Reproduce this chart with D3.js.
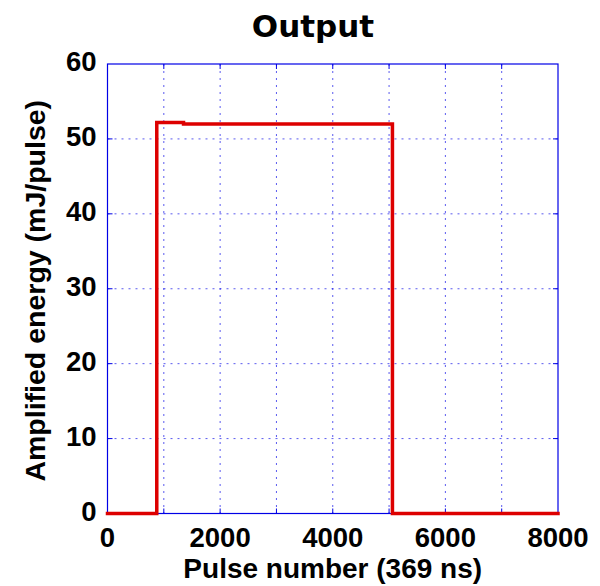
<!DOCTYPE html>
<html>
<head>
<meta charset="utf-8">
<script src="https://cdn.jsdelivr.net/npm/d3@7"></script>
<style>
  body { margin: 0; background: #fff; }
  svg { display: block; }
</style>
</head>
<body>
<svg id="chart"></svg>
<script>
// step trace of the output energy
var pulseNum = [0, 875, 875, 1350, 1350, 5060, 5060, 8000];
var energy   = [0, 0, 52.2, 52.2, 52, 52, 0, 0];
var xTicks = [0, 2000, 4000, 6000, 8000];
var yTicks = [0, 10, 20, 30, 40, 50, 60];
var xGrid = [1000, 2000, 3000, 4000, 5000, 6000, 7000];
var yGrid = [10, 20, 30, 40, 50];

var W = 600, H = 586;
var margin = {top: 64, right: 42, bottom: 72.5, left: 107.5},
    width = W - margin.left - margin.right,
    height = H - margin.top - margin.bottom;

var svg = d3.select("svg#chart")
    .attr("width", W)
    .attr("height", H);

var g = svg.append("g")
    .attr("transform", "translate(" + margin.left + "," + margin.top + ")");

var x = d3.scaleLinear().domain([0, 8000]).range([0, width]);
var y = d3.scaleLinear().domain([0, 60]).range([height, 0]);

var blue = "#0000e6";

// grid
g.selectAll("line.gx")
    .data(xGrid).enter().append("line")
    .attr("x1", function(d){ return x(d); })
    .attr("x2", function(d){ return x(d); })
    .attr("y1", 0).attr("y2", height)
    .attr("stroke", blue).attr("stroke-opacity", 0.65)
    .attr("stroke-dasharray", "2,5");

g.selectAll("line.gy")
    .data(yGrid).enter().append("line")
    .attr("y1", function(d){ return y(d); })
    .attr("y2", function(d){ return y(d); })
    .attr("x1", 0).attr("x2", width)
    .attr("stroke", blue).attr("stroke-opacity", 0.65)
    .attr("stroke-dasharray", "2,5");

// frame
g.append("rect")
    .attr("x", 0).attr("y", 0)
    .attr("width", width).attr("height", height)
    .attr("fill", "none")
    .attr("stroke", blue)
    .attr("stroke-width", 1.2);

// inner tick marks
var tl = 5;
xGrid.forEach(function(d){
    g.append("line").attr("x1", x(d)).attr("x2", x(d)).attr("y1", height).attr("y2", height - tl).attr("stroke", blue);
    g.append("line").attr("x1", x(d)).attr("x2", x(d)).attr("y1", 0).attr("y2", tl).attr("stroke", blue);
});
yGrid.forEach(function(d){
    g.append("line").attr("y1", y(d)).attr("y2", y(d)).attr("x1", 0).attr("x2", tl).attr("stroke", blue);
    g.append("line").attr("y1", y(d)).attr("y2", y(d)).attr("x1", width).attr("x2", width - tl).attr("stroke", blue);
});

// data line
var pts = pulseNum.map(function(p, i){ return [p, energy[i]]; });
var line = d3.line()
    .x(function(d){ return x(d[0]); })
    .y(function(d){ return y(d[1]); });

g.append("path")
    .datum(pts)
    .attr("d", line)
    .attr("fill", "none")
    .attr("stroke", "#dd0000")
    .attr("stroke-width", 3.5)
    .attr("stroke-linecap", "square")
    .attr("stroke-linejoin", "miter");

// tick labels
var tickFont = "'Liberation Sans', Arial, sans-serif";
g.selectAll("text.xt")
    .data(xTicks).enter().append("text")
    .attr("x", function(d){ return x(d); })
    .attr("y", height + 33.5)
    .attr("text-anchor", "middle")
    .style("font-family", tickFont)
    .style("font-weight", "bold")
    .style("font-size", "27.5px")
    .text(function(d){ return d; });

g.selectAll("text.yt")
    .data(yTicks).enter().append("text")
    .attr("x", -11)
    .attr("y", function(d){ return y(d) + 7; })
    .attr("text-anchor", "end")
    .style("font-family", tickFont)
    .style("font-weight", "bold")
    .style("font-size", "27.5px")
    .text(function(d){ return d; });

// axis labels and title
svg.append("text")
    .attr("x", margin.left + width / 2)
    .attr("y", 578)
    .attr("text-anchor", "middle")
    .style("font-family", tickFont)
    .style("font-weight", "bold")
    .style("font-size", "28px")
    .text("Pulse number (369 ns)");

svg.append("text")
    .attr("transform", "translate(45," + (margin.top + height / 2 + 2) + ") rotate(-90)")
    .attr("text-anchor", "middle")
    .style("font-family", tickFont)
    .style("font-weight", "bold")
    .style("font-size", "28.5px")
    .text("Amplified energy (mJ/pulse)");

svg.append("text")
    .attr("x", 313)
    .attr("y", 37)
    .attr("text-anchor", "middle")
    .style("font-family", "'DejaVu Sans', sans-serif")
    .style("font-weight", "bold")
    .style("font-size", "31px")
    .text("Output");
</script>
</body>
</html>
